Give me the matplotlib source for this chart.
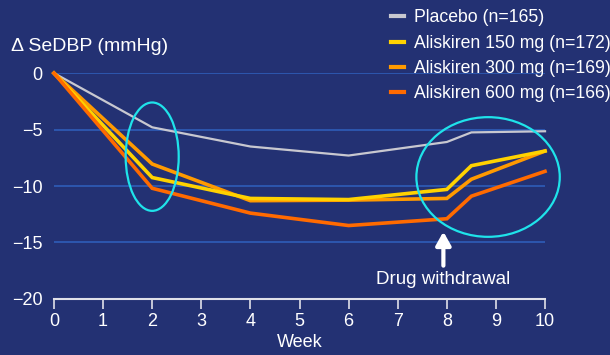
import matplotlib
matplotlib.use("Agg")
import matplotlib.pyplot as plt
from matplotlib.patches import Ellipse

# Data
weeks = [0, 2, 4, 6, 8, 8.5, 10]
placebo = [0, -4.8, -6.5, -7.3, -6.1, -5.25, -5.15]
ali150 = [0, -9.25, -11.1, -11.2, -10.3, -8.2, -6.9]
ali300 = [0, -8.05, -11.3, -11.25, -11.1, -9.4, -6.9]
ali600 = [0, -10.2, -12.4, -13.5, -12.9, -10.9, -8.7]
labels = ["Placebo (n=165)", "Aliskiren 150 mg (n=172)",
          "Aliskiren 300 mg (n=169)", "Aliskiren 600 mg (n=166)"]
x_ticks = list(range(0, 11))
y_ticks = [0, -5, -10, -15, -20]

bg = "#233173"
colors = ["#c8c8d0", "#ffd200", "#ff9a00", "#ff6a00"]

plt.rcParams["font.family"] = ["Liberation Sans", "DejaVu Sans"]

fig = plt.figure(figsize=(6.1, 3.55), dpi=100, facecolor=bg)
ax = fig.add_axes([0.0885, 0.158, 0.805, 0.636], facecolor=bg)

for yv in y_ticks[:-1]:
    ax.plot([0, 10], [yv, yv], color="#2f5db8", lw=1.2, zorder=1)

series = [placebo, ali150, ali300, ali600]
widths = [1.6, 2.6, 2.6, 2.6]
order = [0, 2, 1, 3]
handles = [None] * 4
for i in order:
    h, = ax.plot(weeks, series[i], color=colors[i], lw=widths[i],
                 clip_on=False, zorder=3, solid_joinstyle="miter")
    handles[i] = h

ax.add_patch(Ellipse((2, -7.4), 1.08, 9.6, fill=False, ec="#1fe3ea", lw=1.6,
                     zorder=4, clip_on=False))
ax.add_patch(Ellipse((8.84, -9.2), 2.92, 10.6, fill=False, ec="#1fe3ea", lw=1.6,
                     zorder=4, clip_on=False))

ax.annotate("", xy=(7.93, -13.8), xytext=(7.93, -17.3),
            arrowprops=dict(arrowstyle="-|>,head_width=0.45,head_length=0.8",
                            color="white", lw=3))
ax.text(7.93, -18.3, "Drug withdrawal", color="white", fontsize=13.5,
        ha="center", va="center")

ax.set_xlim(0, 10)
ax.set_ylim(-20, 0)
ax.set_xticks(x_ticks)
ax.set_yticks(y_ticks)
ax.set_yticklabels(["0", "\u22125", "\u221210", "\u221215", "\u221220"])
for s in ["top", "right", "left"]:
    ax.spines[s].set_visible(False)
ax.spines["bottom"].set_color("#e0e0e8")
ax.spines["bottom"].set_linewidth(1.5)
ax.tick_params(axis="x", colors="#e0e0e8", labelcolor="white", labelsize=13,
               length=7, width=1.2, direction="out", pad=3)
ax.tick_params(axis="y", length=0, labelcolor="white", labelsize=13, pad=8)
ax.set_xlabel("Week", color="white", fontsize=13, labelpad=3)

fig.text(0.018, 0.868, "\u0394 SeDBP (mmHg)", color="white", fontsize=14,
         ha="left", va="center")

leg = fig.legend(handles, labels, loc="upper right", bbox_to_anchor=(1.027, 1.018),
                 frameon=False, fontsize=12.7, handlelength=0.75,
                 handletextpad=0.55, labelspacing=0.47, labelcolor="white")
for lh in leg.get_lines():
    lh.set_linewidth(3)

fig.savefig("out.png", dpi=100, facecolor=bg)
